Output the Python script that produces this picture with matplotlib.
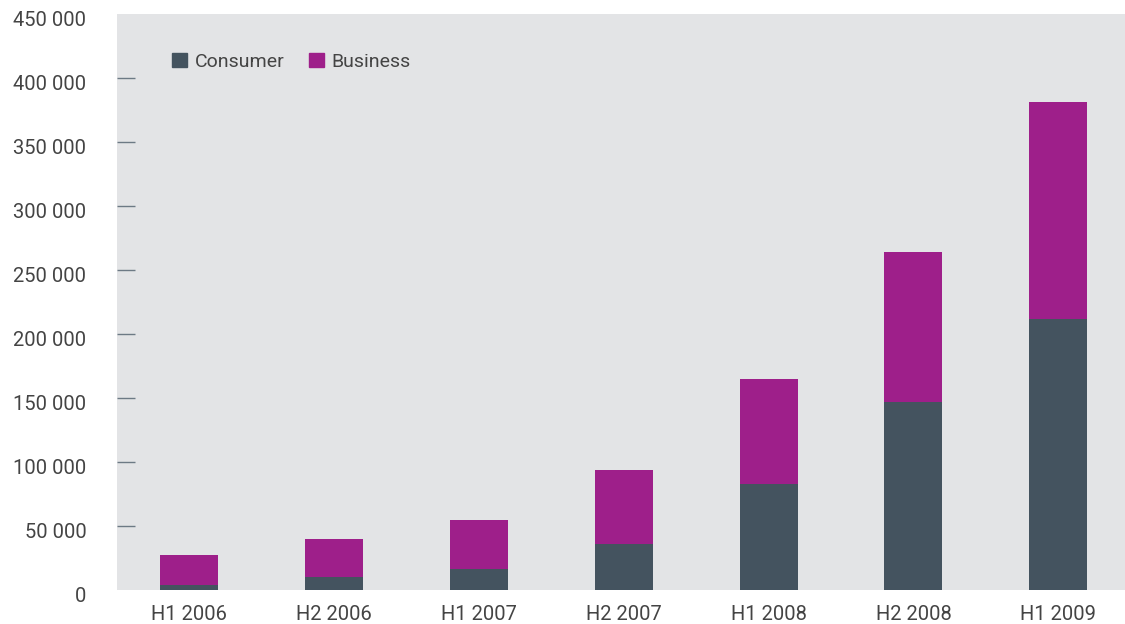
import numpy as np
import matplotlib.pyplot as plt
import matplotlib.transforms as mtransforms
from matplotlib.patches import Patch

periods = ["H1 2006", "H2 2006", "H1 2007", "H2 2007", "H1 2008", "H2 2008", "H1 2009"]
consumer = [3700, 10000, 16400, 36000, 82700, 147000, 211500]
business = [23600, 29800, 38500, 57600, 81900, 117400, 170000]
yticks = [0, 50000, 100000, 150000, 200000, 250000, 300000, 350000, 400000, 450000]

c_consumer = "#44535f"
c_business = "#9e1f8a"
bg = "#e3e4e6"
txt = "#444444"

plt.rcParams['font.family'] = ['Roboto', 'DejaVu Sans']
plt.rcParams['font.weight'] = 'normal'

fig = plt.figure(figsize=(11.25, 6.24), dpi=100)
ax = fig.add_axes([117 / 1125, 34 / 624, 1008 / 1125, 576 / 624])
ax.set_facecolor(bg)

x = np.arange(len(periods))
ax.bar(x, consumer, width=0.4, color=c_consumer, zorder=2, clip_on=False)
ax.bar(x, business, width=0.4, bottom=consumer, color=c_business, zorder=2)

ax.set_xlim(-0.497, 6.46)
ax.set_ylim(0, 450000)
for s in ax.spines.values():
    s.set_visible(False)

ax.set_yticks(yticks)
ax.set_yticklabels([f"{v:,}".replace(",", " ") for v in yticks])
ax.set_xticks(x)
ax.set_xticklabels(periods)
ax.tick_params(axis='y', direction='in', length=13, width=1.0, color="#6d7a85",
               pad=22, labelsize=14.5, labelcolor=txt)
ax.tick_params(axis='x', length=0, pad=11, labelsize=14.5, labelcolor=txt)
for t in ax.yaxis.get_major_ticks():
    if t.get_loc() in (0, 450000):
        t.tick1line.set_visible(False)
shift = mtransforms.ScaledTranslation(0, -4 / 100, fig.dpi_scale_trans)
for lab in ax.get_yticklabels():
    lab.set_transform(lab.get_transform() + shift)

handles = [Patch(color=c_consumer, label="Consumer"),
           Patch(color=c_business, label="Business")]
ax.legend(handles=handles, loc='center left', bbox_to_anchor=(0.037, 0.917),
          ncol=2, frameon=False, fontsize=14, handlelength=0.78,
          handleheight=0.78, handletextpad=0.4, columnspacing=1.25,
          labelcolor=txt)

fig.savefig("out.png", dpi=100, facecolor="white")
